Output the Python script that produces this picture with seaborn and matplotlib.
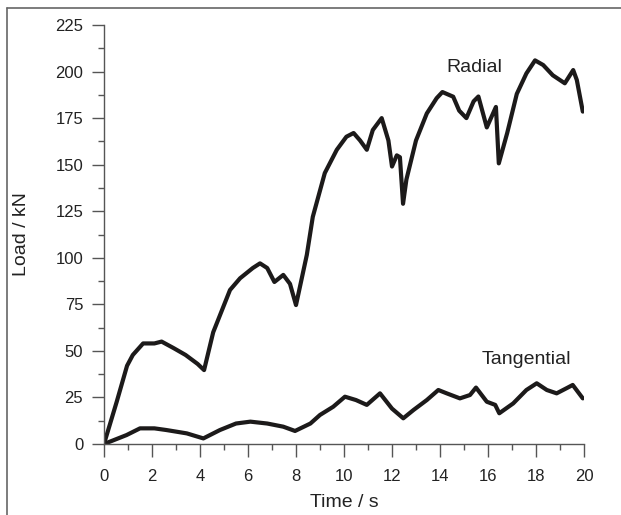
import pandas as pd
import numpy as np
import matplotlib
matplotlib.use('Agg')
import matplotlib.pyplot as plt
import seaborn as sns
from matplotlib.ticker import MultipleLocator
from matplotlib.lines import Line2D

# values
radial_t = [0, 0.53, 0.96, 1.2, 1.63, 2.1, 2.4, 2.9, 3.4, 3.9, 4.17, 4.55, 5.25, 5.67,
            6.2, 6.5, 6.8, 7.1, 7.47, 7.75, 8.0, 8.45, 8.7, 9.2, 9.7, 10.1, 10.4, 10.67,
            10.95, 11.2, 11.57, 11.85, 12.0, 12.2, 12.33, 12.46, 12.6, 13.0, 13.45, 13.86,
            14.1, 14.55, 14.8, 15.1, 15.4, 15.6, 15.95, 16.15, 16.33, 16.45, 16.8, 17.2,
            17.6, 17.96, 18.3, 18.7, 19.2, 19.55, 19.7, 19.95]
radial = [0, 22.7, 42, 47.8, 54, 54, 55, 51.5, 47.8, 43, 39.7, 60, 82.7, 89,
          94.5, 97, 94.5, 87, 90.8, 86, 74.6, 101.5, 122, 145.5, 158, 165, 167, 163,
          158, 168.6, 175, 163, 149, 155, 154, 129, 142, 163, 177.5, 185.7,
          189, 186.5, 179, 175, 184, 186.6, 170, 175.8, 181, 150.7, 167, 188,
          199, 206, 203.5, 198, 193.7, 200.8, 195.5, 178.5]

tang_t = [0, 0.94, 1.5, 2.1, 2.6, 3.45, 4.14, 4.83, 5.5, 6.1, 6.8, 7.47, 7.96, 8.6,
          9.0, 9.55, 10.04, 10.5, 10.95, 11.5, 12.0, 12.47, 12.9, 13.45, 13.93, 14.28,
          14.83, 15.25, 15.5, 15.95, 16.3, 16.47, 17.05, 17.6, 18.03, 18.45, 18.86,
          19.28, 19.53, 19.95]
tang = [0, 4.8, 8.4, 8.4, 7.5, 5.7, 3, 7.5, 11, 12, 11, 9.3, 7, 11,
        15.6, 20, 25.4, 23.6, 21, 27.2, 19, 13.8, 18.3, 23.6, 29, 27.2,
        24.5, 26.3, 30.3, 22.7, 21, 16.5, 21.8, 29, 32.6, 29, 27.2,
        30, 31.7, 24.5]

sns.set_style('ticks')
plt.rcParams['font.family'] = ['Liberation Sans', 'DejaVu Sans']

fig = plt.figure(figsize=(6.21, 5.15), dpi=100)
ax = fig.add_axes([104/621, 71/515, 480/621, 419/515])

line_kw = dict(color='#1c1a1a', linewidth=3.0, estimator=None, sort=False, ax=ax)
sns.lineplot(x=radial_t, y=radial, **line_kw)
sns.lineplot(x=tang_t, y=tang, **line_kw)

ax.set_xlim(0, 20)
ax.set_ylim(0, 225)
ax.xaxis.set_major_locator(MultipleLocator(2))
ax.xaxis.set_minor_locator(MultipleLocator(1))
ax.yaxis.set_major_locator(MultipleLocator(25))
ax.yaxis.set_minor_locator(MultipleLocator(12.5))

grey = '#555555'
txt = '#222222'
sns.despine(ax=ax)
for s in ['left', 'bottom']:
    ax.spines[s].set_color(grey)
    ax.spines[s].set_linewidth(1.0)
ax.tick_params(which='major', direction='out', length=9, width=1.0, color=grey,
               labelsize=12, labelcolor=txt)
ax.tick_params(which='minor', direction='out', length=4.5, width=1.0, color=grey)
ax.tick_params(axis='y', pad=6)
ax.tick_params(axis='x', pad=9)

ax.set_xlabel('Time / s', fontsize=14, color=txt, labelpad=7)
ax.set_ylabel('Load / kN', fontsize=14, color=txt, labelpad=18)

ax.text(15.45, 202, 'Radial', fontsize=14, color=txt, ha='center', va='center')
ax.text(17.6, 45.5, 'Tangential', fontsize=14, color=txt, ha='center', va='center')

# outer frame (only the left and top edges fall inside the picture)
fig.add_artist(Line2D([7/621, 7/621], [0, 1 - 8/515], transform=fig.transFigure,
                      color='#666666', linewidth=1.2))
fig.add_artist(Line2D([7/621, 1], [1 - 8/515, 1 - 8/515], transform=fig.transFigure,
                      color='#666666', linewidth=1.2))

fig.savefig('out.png', dpi=100)
